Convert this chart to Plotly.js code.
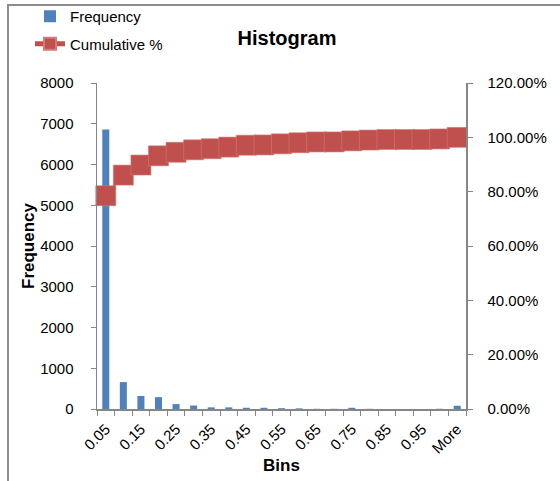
<!DOCTYPE html>
<html>
<head>
<meta charset="utf-8">
<script src="https://cdn.plot.ly/plotly-3.0.1.min.js"></script>
<style>html,body{margin:0;padding:0;background:#fff;}#chart{width:560px;height:481px;}</style>
</head>
<body>
<div id="chart"></div>
<script>
var bins = ['0.05','0.1','0.15','0.2','0.25','0.3','0.35','0.4','0.45','0.5','0.55','0.6','0.65','0.7','0.75','0.8','0.85','0.9','0.95','1','More'];
var tickLabels = ['0.05','','0.15','','0.25','','0.35','','0.45','','0.55','','0.65','','0.75','','0.85','','0.95','','More'];
var frequency = [6860, 660, 320, 290, 120, 85, 40, 40, 30, 30, 20, 15, 5, 5, 30, 5, 0, 0, 0, 5, 80];
var cumulative = [0.785, 0.861, 0.898, 0.932, 0.945, 0.954, 0.958, 0.964, 0.971, 0.972, 0.976, 0.980, 0.983, 0.983, 0.987, 0.990, 0.992, 0.992, 0.992, 0.994, 1.0];

var W = 560, H = 481, L = 97, R = 94, T = 83, B = 72;
var pw = W - L - R, ph = H - T - B;
function px(x){ return (x - L) / pw; }
function py(y){ return (H - B - y) / ph; }

var FONT = 'Liberation Sans, Arial, sans-serif';
var AX = '#868686';

var traces = [
  {
    type: 'bar', name: 'Frequency', x: bins, y: frequency, legendgroup: 'f',
    marker: {color: '#4F81BD'}, yaxis: 'y'
  },
  {
    type: 'scatter', mode: 'lines+markers', name: 'Cumulative %', x: bins, y: cumulative,
    yaxis: 'y2', cliponaxis: false, legendgroup: 'c',
    line: {color: '#C0504D', width: 2},
    marker: {symbol: 'square', size: 20, color: '#C0504D', line: {color: '#D27B78', width: 0.6}}
  }
];

var layout = {
  width: W, height: H,
  margin: {l: L, r: R, t: T, b: B, autoexpand: false},
  paper_bgcolor: '#ffffff', plot_bgcolor: '#ffffff',
  font: {family: FONT, size: 15, color: '#000'},
  showlegend: true,
  bargap: 0.6,
  legend: {
    xref: 'paper', yref: 'paper',
    x: px(30), y: py(0), xanchor: 'left', yanchor: 'top',
    bgcolor: 'rgba(0,0,0,0)', font: {family: FONT, size: 15, color: '#000'},
    itemsizing: 'constant', traceorder: 'grouped', tracegroupgap: 5
  },
  title: {
    text: '<b>Histogram</b>', font: {family: FONT, size: 20, color: '#000'},
    xref: 'container', yref: 'container', x: 287 / W, y: 1 - 38 / H,
    xanchor: 'center', yanchor: 'middle'
  },
  xaxis: {
    type: 'category', range: [-0.5, 20.5], autorange: false,
    tickmode: 'array', tickvals: bins, ticktext: tickLabels,
    tickson: 'boundaries', ticks: 'outside', ticklen: 5, tickwidth: 1, tickcolor: AX,
    tickangle: -45, ticklabelstandoff: 4,
    showline: true, linecolor: AX, linewidth: 1.5, showgrid: false, zeroline: false,
    tickfont: {family: FONT, size: 15, color: '#000'},
    title: {text: '<b>Bins</b>', font: {family: FONT, size: 17, color: '#000'}},
    automargin: false, fixedrange: true
  },
  yaxis: {
    range: [0, 8000], tickmode: 'linear', dtick: 1000, tick0: 0,
    ticks: 'outside', ticklen: 5, tickwidth: 1, tickcolor: AX,
    showline: true, linecolor: AX, linewidth: 1.5, showgrid: false, zeroline: false,
    tickfont: {family: FONT, size: 15, color: '#000'}, ticklabelstandoff: 14,
    title: {text: '<b>Frequency</b>', font: {family: FONT, size: 17, color: '#000'}},
    automargin: false, fixedrange: true
  },
  yaxis2: {
    overlaying: 'y', side: 'right', range: [0, 1.2], tickmode: 'linear', dtick: 0.2, tick0: 0,
    tickformat: '.2%', ticks: 'outside', ticklen: 5, tickwidth: 1, tickcolor: AX,
    showline: true, linecolor: AX, linewidth: 1.5, showgrid: false, zeroline: false,
    tickfont: {family: FONT, size: 15, color: '#000'}, ticklabelstandoff: 12,
    automargin: false, fixedrange: true
  },
  shapes: [
    {type: 'line', xref: 'paper', yref: 'paper', x0: px(8), x1: px(8), y0: py(490), y1: py(5),
     line: {color: '#8C8C8C', width: 2}},
    {type: 'line', xref: 'paper', yref: 'paper', x0: px(7), x1: px(570), y0: py(5), y1: py(5),
     line: {color: '#8C8C8C', width: 2}}
  ]
};

Plotly.newPlot('chart', traces, layout, {displayModeBar: false, staticPlot: true});
</script>
</body>
</html>
